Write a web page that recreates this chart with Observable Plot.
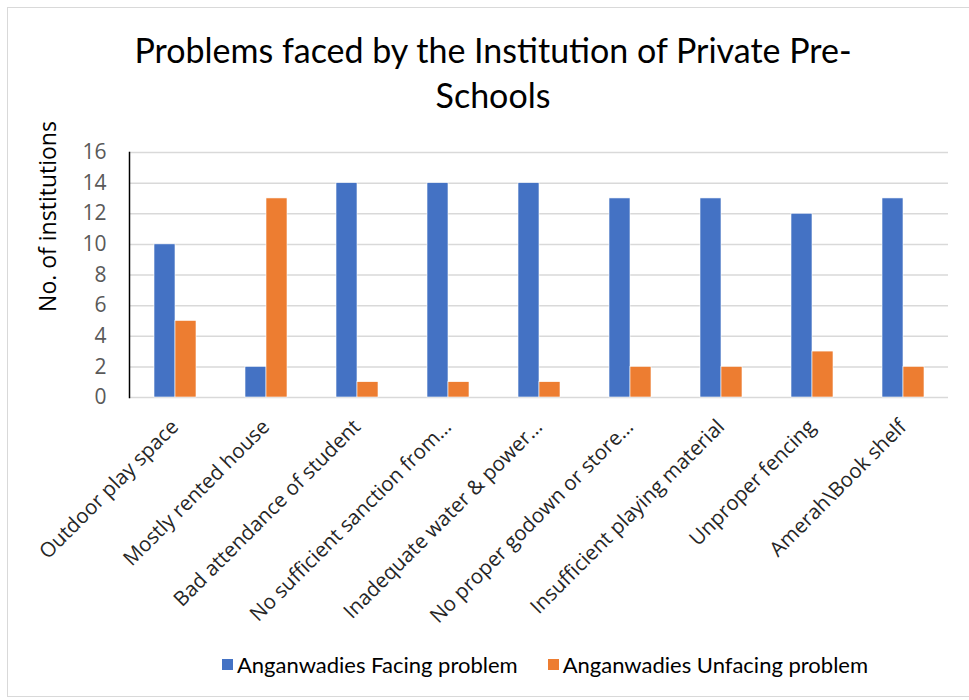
<!DOCTYPE html>
<html>
<head>
<meta charset="utf-8">
<script src="https://cdn.jsdelivr.net/npm/d3@7"></script>
<script src="https://cdn.jsdelivr.net/npm/@observablehq/plot@0.6"></script>
<style>
  html, body { margin: 0; padding: 0; background: #fff; }
  #wrap { position: relative; width: 969px; height: 700px; overflow: hidden; background: #fff; }
  #border { position: absolute; left: 7px; top: 7px; width: 964px; height: 690px; border: 1px solid #d9d9d9; box-sizing: border-box; }
  #title { position: absolute; left: 93px; width: 800px; top: 27px; text-align: center; font-family: Lato, sans-serif; font-size: 34px; line-height: 45px; color: #000; }
  #chart { position: absolute; left: 0; top: 0; }
  #legend { position: absolute; top: 648px; left: -5px; width: 1100px; text-align: center; font-family: Lato, sans-serif; font-size: 22px; color: #000; }
  #legend .item { display: inline-flex; align-items: center; margin: 0 15px; }
  #legend .sw { width: 11px; height: 11px; margin-right: 4px; display: inline-block; }
</style>
</head>
<body>
<div id="wrap">
  <div id="border"></div>
  <div id="chart"></div>
  <div id="title">Problems faced by the Institution of Private Pre-<br>Schools</div>
  <div id="legend"></div>
</div>
<script>
const categories = [
  "Outdoor play space",
  "Mostly rented house",
  "Bad attendance of student",
  "No sufficient sanction from…",
  "Inadequate water & power…",
  "No proper godown or store…",
  "Insufficient playing material",
  "Unproper fencing",
  "Amerah\\Book shelf"
];
const series = ["Anganwadies Facing problem", "Anganwadies Unfacing problem"];
const facing = [10, 2, 14, 14, 14, 13, 13, 12, 13];
const unfacing = [5, 13, 1, 1, 1, 2, 2, 3, 2];
const yTicks = [0, 2, 4, 6, 8, 10, 12, 14, 16];
const colors = ["#4472C4", "#ED7D31"];
const yLabel = "No. of institutions";

const data = categories.flatMap((c, i) => [
  {category: c, series: series[0], value: facing[i]},
  {category: c, series: series[1], value: unfacing[i]}
]);

const chart = Plot.plot({
  width: 969,
  height: 640,
  marginTop: 152,
  marginBottom: 243,
  marginLeft: 128,
  marginRight: 21,
  style: {fontFamily: "'Open Sans', sans-serif", background: "transparent", overflow: "visible"},
  fx: {domain: categories, padding: 0, label: null},
  x: {domain: series, paddingInner: 0, paddingOuter: 1.12, axis: null},
  y: {domain: [0, 16], label: null},
  color: {domain: series, range: colors},
  marks: [
    Plot.gridY(yTicks, {stroke: "#d9d9d9", strokeOpacity: 1, strokeWidth: 1.5}),
    Plot.barY(data, {fx: "category", x: "series", y: "value", fill: "series", stroke: "#ffffff", strokeWidth: 0.6}),
    Plot.axisFx({anchor: "bottom", tickRotate: -45, tickSize: 0, tickPadding: 26, fontSize: 20.5, fill: "#262626", label: null}),
    Plot.axisY(yTicks, {tickSize: 0, tickPadding: 23, fontSize: 21, fill: "#595959", label: null}),
    Plot.text([yLabel], {text: d => d, frameAnchor: "top-left", rotate: -90, dx: -81, dy: 64, textAnchor: "middle", lineAnchor: "middle", fontSize: 23, fill: "#000", facet: "super"}),
    Plot.frame({anchor: "left", facet: "super", stroke: "#000", strokeWidth: 1.5})
  ]
});
document.getElementById("chart").appendChild(chart);

const legend = document.getElementById("legend");
series.forEach((s, i) => {
  const item = document.createElement("span");
  item.className = "item";
  const sw = document.createElement("span");
  sw.className = "sw";
  sw.style.background = colors[i];
  item.appendChild(sw);
  item.appendChild(document.createTextNode(s));
  legend.appendChild(item);
});
</script>
</body>
</html>
